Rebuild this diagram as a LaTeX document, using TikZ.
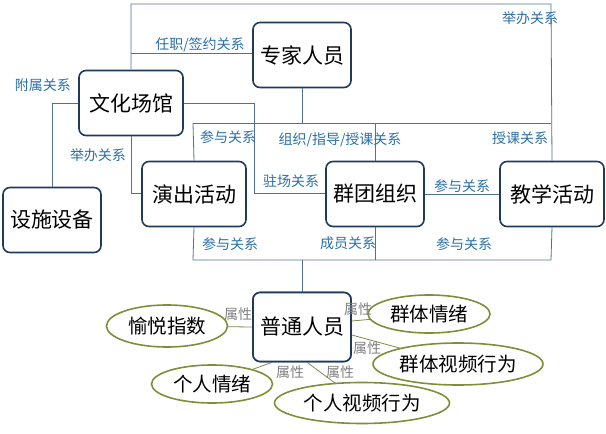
\documentclass[tikz,border=0pt]{standalone}
\usepackage{fontspec}
\setmainfont{Noto Sans CJK SC}
\usetikzlibrary{shapes.geometric}
\definecolor{lc}{HTML}{4F7196}
\definecolor{tc}{HTML}{2A6FA8}
\definecolor{bc}{HTML}{1F3A5C}
\definecolor{oc}{HTML}{7D8F3A}
\tikzset{
 box/.style={draw=bc,line width=1.6pt,rounded corners=7pt,fill=white,minimum width=98pt,minimum height=65pt,font=\fontsize{21}{22}\selectfont,inner sep=0},
 ell/.style={ellipse,draw=oc,line width=1.6pt,fill=white,font=\fontsize{19.5}{20}\selectfont,inner sep=0},
 lnk/.style={draw=lc,line width=0.8pt},
 lab/.style={text=tc,font=\fontsize{14}{15}\selectfont,inner sep=1pt},
 alnk/.style={draw=oc!70!gray,line width=0.8pt},
 alab/.style={text=gray,font=\fontsize{14}{15}\selectfont,inner sep=1pt}
}
\begin{document}
\begin{tikzpicture}[x=1pt,y=-1pt]
\useasboundingbox (0,0) rectangle (606,434);
\coordinate (tl) at (131,4); \coordinate (tr) at (551,4);
\coordinate (rz) at (131,53);
\coordinate (fs) at (52,103);
\coordinate (jb) at (131,193);
\coordinate (zc1) at (254,103); \coordinate (zc2) at (254,193);
\coordinate (eh) at (302,123);
\coordinate (hl) at (193,123); \coordinate (hr) at (551,123);
\coordinate (bl) at (193,260); \coordinate (br) at (551,260); \coordinate (bm) at (302,260);
\node[box] (zj) at (302,55) {专家人员};
\node[box,minimum width=104pt] (wh) at (131,103) {文化场馆};
\node[box,minimum width=104pt] (yc) at (194,194) {演出活动};
\node[box] (qt) at (375,194) {群团组织};
\node[box,minimum width=104pt] (jx) at (552,194) {教学活动};
\node[box] (ss) at (52,220) {设施设备};
\node[box,minimum height=69pt] (pt) at (302,327) {普通人员};
\draw[lnk] (wh.north) -- (tl) -- (tr) -- (jx.north);
\draw[lnk] (rz) -- (rz-|zj.west);
\draw[lnk] (wh.west) -- (fs) -- (ss.north);
\draw[lnk] (wh.south) -- (jb) -- (jb-|yc.west);
\draw[lnk] (wh.east) -- (zc1) -- (zc2) -- (zc2-|qt.west);
\draw[lnk] (zj.south) -- (eh);
\draw[lnk] (hl) -- (hr);
\draw[lnk] (hl) -- (yc.north);
\draw[lnk] (qt.north|-hl) -- (qt.north);
\draw[lnk] (qt.east) -- (jx.west);
\draw[lnk] (yc.south) -- (bl) -- (br) -- (jx.south);
\draw[lnk] (qt.south) -- (qt.south|-bl);
\draw[lnk] (bm) -- (pt.north);
\node[lab] at (530,18) {举办关系};
\node[lab] at (200,45) {任职/签约关系};
\node[lab] at (43,85) {附属关系};
\node[lab] at (98,155) {举办关系};
\node[lab] at (291,181) {驻场关系};
\node[lab] at (228,137) {参与关系};
\node[lab] at (340,140) {组织/指导/授课关系};
\node[lab] at (520,138) {授课关系};
\node[lab] at (462,186) {参与关系};
\node[lab] at (230,244) {参与关系};
\node[lab] at (348,243) {成员关系};
\node[lab] at (464,244) {参与关系};
\coordinate (yy) at (167,326);
\draw[alnk] (pt.west) -- (yy);
\draw[alnk] (pt.east) ++(0,-6) -- (429,314);
\draw[alnk] (pt.east) ++(0,8) -- (458,364);
\draw[alnk] (pt.south west) ++(20,0) -- (212,384);
\draw[alnk] (pt.south) ++(5,0) -- (362,403);
\node[ell,minimum width=121pt,minimum height=42pt] (e1) at (167,326) {愉悦指数};
\node[ell,minimum width=122pt,minimum height=38pt] (e2) at (429,314) {群体情绪};
\node[ell,minimum width=170pt,minimum height=42pt] (e3) at (458,364) {群体视频行为};
\node[ell,minimum width=121pt,minimum height=38pt] (e4) at (212,384) {个人情绪};
\node[ell,minimum width=175pt,minimum height=41pt] (e5) at (362,403) {个人视频行为};
\node[box,minimum height=69pt] (pt2) at (302,327) {普通人员};
\node[alab] at (238,314) {属性};
\node[alab] at (358,309) {属性};
\node[alab] at (367,348) {属性};
\node[alab] at (290,372) {属性};
\node[alab] at (340,372) {属性};
\end{tikzpicture}
\end{document}
